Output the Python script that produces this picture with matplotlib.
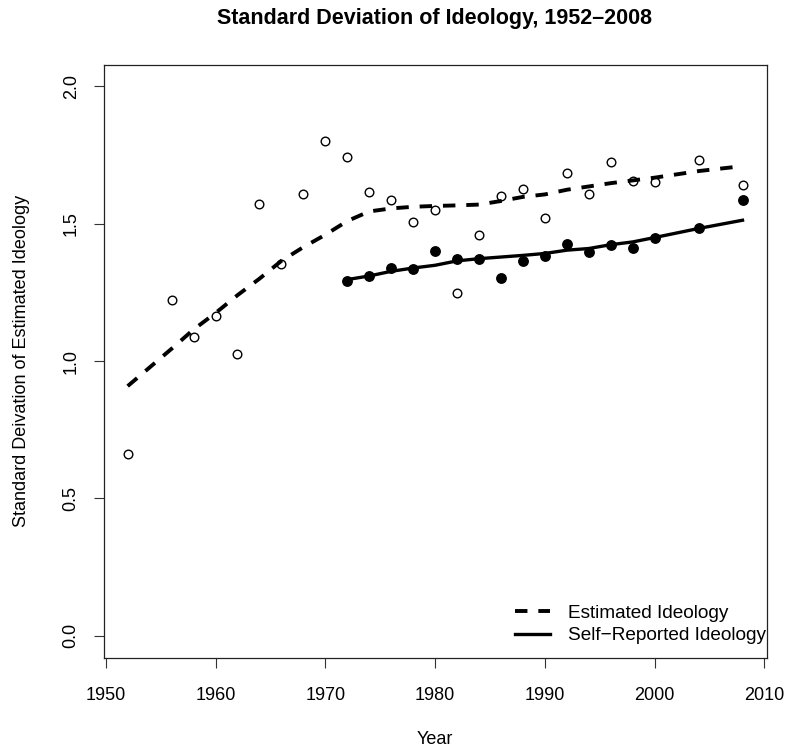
import matplotlib
matplotlib.use("Agg")
import matplotlib.pyplot as plt

plt.rcParams['font.family'] = ['Liberation Sans', 'DejaVu Sans']

# --- DATA ---
est_years = [1952, 1956, 1958, 1960, 1962, 1964, 1966, 1968, 1970, 1972, 1974,
             1976, 1978, 1980, 1982, 1984, 1986, 1988, 1990, 1992, 1994, 1996,
             1998, 2000, 2004, 2008]
est_sd = [0.662, 1.223, 1.086, 1.164, 1.027, 1.571, 1.355, 1.610, 1.802, 1.742,
          1.617, 1.588, 1.507, 1.550, 1.248, 1.461, 1.601, 1.625, 1.521, 1.685,
          1.607, 1.725, 1.657, 1.651, 1.733, 1.642]
# smoothed (lowess) curve of estimated ideology
est_fit = [0.909, 1.045, 1.115, 1.175, 1.240, 1.300, 1.365, 1.415, 1.460, 1.510,
           1.545, 1.556, 1.562, 1.565, 1.567, 1.570, 1.583, 1.598, 1.607, 1.624,
           1.636, 1.648, 1.658, 1.668, 1.692, 1.710]

self_years = [1972, 1974, 1976, 1978, 1980, 1982, 1984, 1986, 1988, 1990, 1992,
              1994, 1996, 1998, 2000, 2004, 2008]
self_sd = [1.292, 1.309, 1.338, 1.336, 1.400, 1.371, 1.372, 1.304, 1.366, 1.383,
           1.427, 1.399, 1.424, 1.411, 1.447, 1.486, 1.585]
self_fit = [1.297, 1.310, 1.327, 1.339, 1.349, 1.365, 1.373, 1.379, 1.385, 1.392,
            1.404, 1.410, 1.424, 1.434, 1.450, 1.483, 1.513]

x_ticks = [1950, 1960, 1970, 1980, 1990, 2000, 2010]
y_ticks = [0.0, 0.5, 1.0, 1.5, 2.0]
y_tick_labels = ['0.0', '0.5', '1.0', '1.5', '2.0']

# --- PLOT ---
fig = plt.figure(figsize=(7.89, 7.51), dpi=100)
ax = fig.add_axes([0.1312, 0.1242, 0.8405, 0.7899])

ax.plot(est_years, est_sd, 'o', mfc='white', mec='black', mew=1.0, ms=6.2)
ax.plot(self_years, self_sd, 'o', color='black', ms=6.8)
ax.plot(est_years, est_fit, color='black', lw=2.8, dashes=(3.2, 2.8),
        label='Estimated Ideology')
ax.plot(self_years, self_fit, color='black', lw=2.4, label='Self\u2212Reported Ideology')

ax.set_xlim(1949.8, 2010.2)
ax.set_ylim(-0.08, 2.08)
ax.set_xticks(x_ticks)
ax.set_yticks(y_ticks)
ax.set_yticklabels(y_tick_labels, rotation=90, va='center')
ax.tick_params(direction='out', length=7.2, width=0.8, labelsize=13, color='#333333')
ax.tick_params(axis='x', pad=14)
ax.tick_params(axis='y', pad=10)
for s in ax.spines.values():
    s.set_linewidth(0.9)
    s.set_color('#222222')

leg = ax.legend(loc='lower left', bbox_to_anchor=(0.609, 0.010), frameon=False,
                fontsize=13.7, handlelength=1.85, handletextpad=0.95, labelspacing=0.26,
                borderaxespad=0)

fig.text(0.5513, 1 - 18.5 / 751, 'Standard Deviation of Ideology, 1952\u20132008',
         ha='center', va='center', fontsize=15.5, fontweight='bold')
fig.text(0.5513, 1 - 739.5 / 751, 'Year', ha='center', va='center', fontsize=13)
fig.text(22 / 789, 1 - 361 / 751, 'Standard Deivation of Estimated Ideology',
         ha='center', va='center', rotation=90, fontsize=13)

plt.savefig('out.png', dpi=100)
